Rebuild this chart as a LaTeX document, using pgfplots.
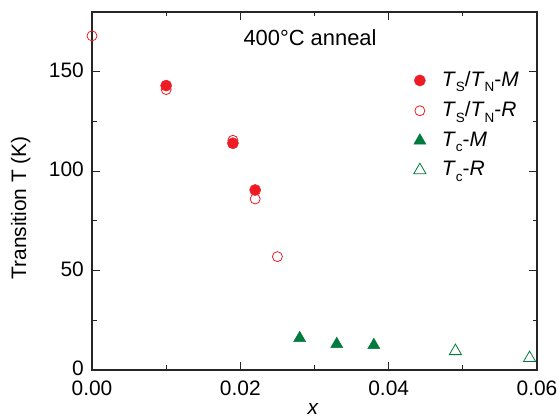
\documentclass[border=0pt]{standalone}
\usepackage{fontspec}
\setmainfont{Liberation Sans}
\usepackage{pgfplots}
\pgfplotsset{compat=1.18}
\definecolor{myred}{RGB}{237,28,36}
\definecolor{mygreen}{RGB}{0,122,61}
\newcommand{\sub}[1]{\raisebox{-5.5bp}{\fontsize{13.5}{14}\selectfont #1}}
\begin{document}
\fontsize{21}{25}\selectfont
\begin{tikzpicture}
\path[use as bounding box] (0,0) rectangle (559bp,419bp);
\begin{axis}[
 at={(92bp,49bp)}, anchor=south west,
 scale only axis, width=445bp, height=358bp,
 xmin=0, xmax=0.06, ymin=0, ymax=180,
 xtick={0,0.02,0.04,0.06}, ytick={0,50,100,150},
 minor x tick num=1, minor y tick num=1,
 tick align=inside, major tick length=8bp, minor tick length=4.5bp,
 axis line style={line width=1.1pt, black!85},
 every tick/.style={line width=1pt, black!85},
 tick label style={font=\fontsize{21}{25}\selectfont, inner sep=1bp},
 x tick label style={/pgf/number format/.cd, fixed, fixed zerofill, precision=2, /tikz/.cd, yshift=-10bp},
 y tick label style={xshift=-7bp, yshift=1.5bp},
 scaled x ticks=false,
 /pgf/number format/assume math mode=true,
 xlabel={\textit{x}},
 ylabel={Transition T (K)},
 label style={font=\fontsize{21}{25}\selectfont},
 xlabel style={at={(axis description cs:0.497,-0.108)}, anchor=center},
 ylabel style={at={(axis description cs:-0.160,0.453)}, anchor=center},
 legend style={at={(axis description cs:0.716,0.846)}, anchor=north west, draw=none, fill=none,
   font=\fontsize{21}{25}\selectfont, row sep=8bp,
   /tikz/every odd column/.append style={column sep=14bp}},
 legend cell align=left,
]
\addplot[only marks, mark=*, mark size=5.6bp, color=myred, fill=myred]
 coordinates {(0.01,143) (0.019,114) (0.022,90.5)};
\addlegendentry{\textit{T}\sub{S}/\textit{T}\sub{N}-\textit{M}}
\addplot[only marks, mark=o, mark size=5bp, color=myred, line width=0.8pt]
 coordinates {(0,168) (0.01,141) (0.019,115.5) (0.022,86) (0.025,57)};
\addlegendentry{\textit{T}\sub{S}/\textit{T}\sub{N}-\textit{R}}
\addplot[only marks, mark=triangle*, mark size=7bp, color=mygreen, fill=mygreen]
 coordinates {(0.028,16) (0.033,13) (0.038,12.5)};
\addlegendentry{\textit{T}\sub{c}-\textit{M}}
\addplot[only marks, mark=triangle, mark size=7bp, color=mygreen, line width=0.8pt]
 coordinates {(0.049,9.5) (0.059,6)};
\addlegendentry{\textit{T}\sub{c}-\textit{R}}
\node[font=\fontsize{22}{26}\selectfont] at (axis cs:0.0294,167) {400°C anneal};
\end{axis}
\end{tikzpicture}
\end{document}
